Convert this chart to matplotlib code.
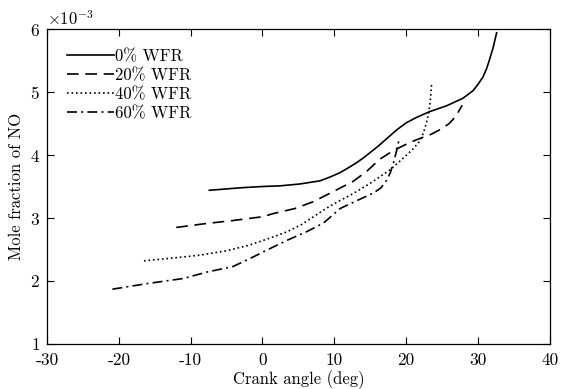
import matplotlib
matplotlib.use('Agg')
from matplotlib import pyplot as plt
from matplotlib import ticker

plt.rcParams['font.family'] = 'cmr10'
plt.rcParams['mathtext.fontset'] = 'cm'
plt.rcParams['axes.unicode_minus'] = False
plt.rcParams['axes.formatter.use_mathtext'] = True

# crank angle (deg) and NO mole fraction (x1e-3)
ca_0 = [-7.4, -3.0, 0.0, 2.4, 5.2, 8.0, 9.4, 10.8, 12.0, 13.0, 14.0, 15.0, 16.0,
        17.3, 18.7, 20.0, 21.5, 23.3, 25.6, 27.9, 29.3, 30.0, 30.7, 31.2, 31.6,
        32.1, 32.6]
no_0 = [3.44, 3.48, 3.50, 3.51, 3.54, 3.59, 3.65, 3.72, 3.80, 3.87, 3.95, 4.04,
        4.13, 4.26, 4.40, 4.51, 4.60, 4.69, 4.78, 4.90, 5.02, 5.12, 5.24, 5.37,
        5.51, 5.70, 5.94]

ca_20 = [-12.0, -8.0, -4.1, 0.0, 1.5, 4.5, 7.1, 10.2, 12.6, 14.5, 16.3, 18.2,
         20.0, 21.4, 23.5, 25.0, 26.0, 26.8, 27.3, 27.8]
no_20 = [2.85, 2.91, 2.96, 3.02, 3.07, 3.15, 3.26, 3.44, 3.58, 3.74, 3.93, 4.07,
         4.17, 4.24, 4.33, 4.42, 4.50, 4.60, 4.69, 4.79]

ca_40 = [-16.5, -12.0, -8.7, -5.0, -1.8, 1.0, 3.4, 5.5, 7.5, 9.4, 10.5, 12.5,
         15.0, 17.7, 19.5, 21.0, 21.9, 22.4, 22.8, 23.1, 23.3, 23.45, 23.55]
no_40 = [2.32, 2.37, 2.41, 2.48, 2.57, 2.68, 2.78, 2.90, 3.05, 3.19, 3.26, 3.38,
         3.55, 3.76, 3.94, 4.10, 4.22, 4.35, 4.50, 4.64, 4.80, 4.97, 5.14]

ca_60 = [-20.9, -16.0, -11.0, -7.8, -4.1, -1.5, 0.6, 3.5, 6.1, 8.5, 10.8, 13.6,
         15.5, 16.5, 17.3, 17.8, 18.3, 18.7, 19.0]
no_60 = [1.87, 1.96, 2.04, 2.14, 2.23, 2.37, 2.49, 2.65, 2.78, 2.92, 3.15, 3.30,
         3.40, 3.48, 3.60, 3.72, 3.90, 4.08, 4.24]

series = [
    (ca_0, no_0, '0% WFR', '-'),
    (ca_20, no_20, '20% WFR', (0, (7, 4))),
    (ca_40, no_40, '40% WFR', (0, (1, 1.7))),
    (ca_60, no_60, '60% WFR', (0, (6, 2.5, 1.2, 2.5))),
]

fig = plt.figure(figsize=(5.61, 3.89), dpi=100)
ax = fig.add_axes([0.0838, 0.1157, 0.8962, 0.8097])

for ca, no, label, ls in series:
    ax.plot(ca, [v * 1e-3 for v in no], c='k', lw=1.2, linestyle=ls, label=label)

ax.set_xlim(-30, 40)
ax.set_ylim(1e-3, 6e-3)
ax.set_xticks(range(-30, 41, 10))
ax.xaxis.set_major_formatter(ticker.FuncFormatter(lambda v, p: '%d' % v))
ax.set_yticks([i * 1e-3 for i in range(1, 7)])
ax.ticklabel_format(axis='y', style='sci', scilimits=(-3, -3))
ax.tick_params(direction='in', top=True, right=True, labelsize=12.5, length=5, width=0.8)
ax.tick_params(axis='x', pad=6)
ax.tick_params(axis='y', pad=5)
ax.yaxis.get_offset_text().set_fontsize(12)
for s in ax.spines.values():
    s.set_linewidth(0.9)

ax.set_xlabel('Crank angle (deg)', fontsize=12, labelpad=2)
ax.set_ylabel('Mole fraction of NO', fontsize=12, labelpad=4)

ax.legend(loc='upper left', frameon=False, fontsize=12, handlelength=2.8,
          handletextpad=0.1, labelspacing=0.22, borderaxespad=0.5,
          bbox_to_anchor=(0.01, 0.985))

fig.savefig('out.png', dpi=100)
